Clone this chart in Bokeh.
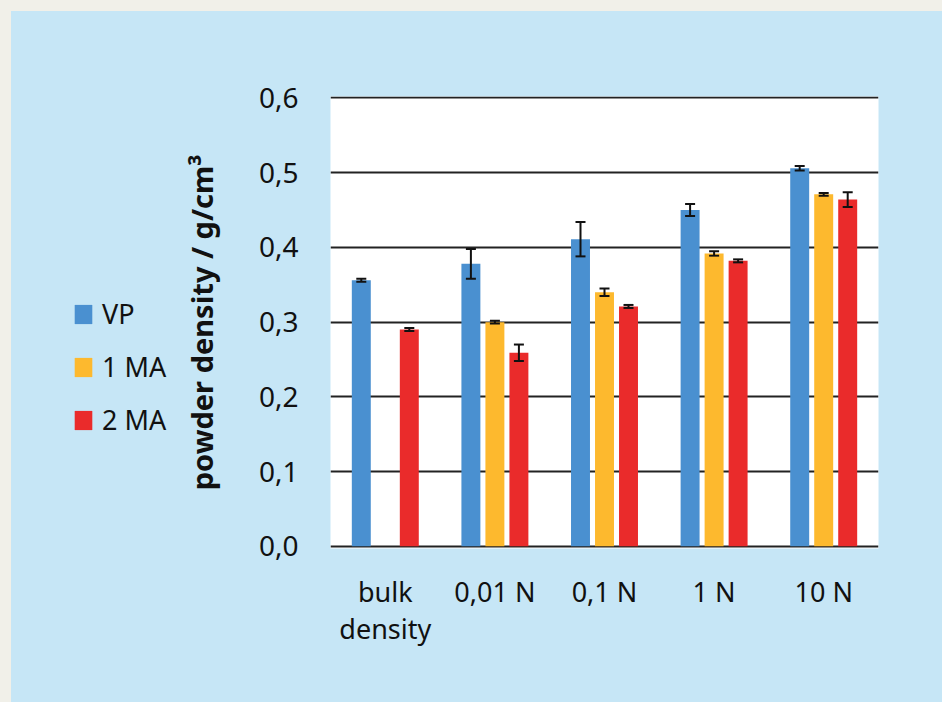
from bokeh.plotting import figure
from bokeh.models import (ColumnDataSource, FactorRange, Whisker, TeeHead, Legend,
                          LegendItem, FixedTicker, CustomJSTickFormatter)
from bokeh.transform import dodge
from bokeh.layouts import column, row
from bokeh.embed import file_html
from bokeh.resources import INLINE

# ---- data -------------------------------------------------------------
categories = ["bulk\ndensity", "0,01 N", "0,1 N", "1 N", "10 N"]
series_names = ["VP", "1 MA", "2 MA"]
vp_values = [0.356, 0.378, 0.411, 0.450, 0.506]
ma1_values = [None, 0.300, 0.340, 0.392, 0.471]
ma2_values = [0.290, 0.259, 0.321, 0.382, 0.464]
vp_errors = [0.002, 0.020, 0.023, 0.008, 0.003]
ma1_errors = [None, 0.002, 0.005, 0.003, 0.002]
ma2_errors = [0.002, 0.011, 0.002, 0.002, 0.010]
y_ticks = [0.0, 0.1, 0.2, 0.3, 0.4, 0.5, 0.6]

colors = ["#4A90D0", "#FDB92E", "#EA2B2B"]
offsets = [-0.219, 0.0, 0.219]
BAR_W = 0.173
FONT = "Noto Sans"
INK = "#111111"
PANEL = "#C6E6F6"
PAGE = "#F1F0E9"

# ---- main bar chart ---------------------------------------------------
p = figure(
    x_range=FactorRange(*categories, range_padding=0),
    y_range=(-0.003, 0.602),
    width=766, height=691,
    frame_width=548, frame_height=452,
    min_border_left=154, min_border_right=64,
    min_border_top=85, min_border_bottom=154,
    output_backend="svg", toolbar_location=None,
    background_fill_color="white", border_fill_color=PANEL,
    outline_line_color=None,
)

for vals, errs, col, off in zip(
        [vp_values, ma1_values, ma2_values],
        [vp_errors, ma1_errors, ma2_errors], colors, offsets):
    cats, tops, lo, hi = [], [], [], []
    for c, v, e in zip(categories, vals, errs):
        if v is None:
            continue
        cats.append(c)
        tops.append(v)
        lo.append(v - e)
        hi.append(v + e)
    src = ColumnDataSource(dict(cat=cats, top=tops, lower=lo, upper=hi))
    p.vbar(x=dodge("cat", off, range=p.x_range), top="top", bottom=0,
           width=BAR_W, source=src, fill_color=col, line_color=None)
    p.add_layout(Whisker(
        source=src, base=dodge("cat", off, range=p.x_range),
        upper="upper", lower="lower", level="annotation",
        line_color=INK, line_width=2,
        upper_head=TeeHead(size=10, line_color=INK, line_width=2),
        lower_head=TeeHead(size=10, line_color=INK, line_width=2)))

# grid
p.xgrid.grid_line_color = None
p.ygrid.ticker = FixedTicker(ticks=y_ticks)
p.ygrid.grid_line_color = "#222222"
p.ygrid.grid_line_width = 2

# y axis
p.yaxis.ticker = FixedTicker(ticks=y_ticks)
p.yaxis.formatter = CustomJSTickFormatter(
    code="return tick.toFixed(1).replace('.', ',');")
p.yaxis.axis_line_color = None
p.yaxis.major_tick_line_color = None
p.yaxis.minor_tick_line_color = None
p.yaxis.major_label_standoff = 26
p.yaxis.major_label_text_font = FONT
p.yaxis.major_label_text_font_size = "28px"
p.yaxis.major_label_text_color = INK
p.yaxis.axis_label = "powder density / g/cm³"
p.yaxis.axis_label_text_font = FONT
p.yaxis.axis_label_text_font_style = "bold"
p.yaxis.axis_label_text_font_size = "29px"
p.yaxis.axis_label_text_color = INK
p.yaxis.axis_label_standoff = 35

# x axis
p.xaxis.axis_line_color = None
p.xaxis.major_tick_line_color = None
p.xaxis.minor_tick_line_color = None
p.xaxis.major_label_standoff = 18
p.xaxis.major_label_text_font = FONT
p.xaxis.major_label_text_font_size = "27px"
p.xaxis.major_label_text_color = INK
p.xaxis.major_label_text_line_height = 1.0
p.xaxis.major_label_orientation = "horizontal"

# ---- legend strip on the left ------------------------------------------
lg = figure(
    width=165, height=691, x_range=(0, 1), y_range=(0, 1),
    min_border=0, output_backend="svg", toolbar_location=None,
    x_axis_location=None, y_axis_location=None,
    background_fill_alpha=0, border_fill_alpha=0,
    outline_line_color=None,
)
lg.xgrid.visible = False
lg.ygrid.visible = False

items = []
for name, col in zip(series_names, colors):
    # one bar far outside the visible range, only used for its legend swatch
    r = lg.vbar(x=[5], top=[6], bottom=[5], width=0.1,
                fill_color=col, line_color=None)
    items.append(LegendItem(label=name, renderers=[r]))

legend = Legend(
    items=items, location=(61, 110), orientation="vertical",
    glyph_width=22, glyph_height=24, label_height=24,
    spacing=16, label_standoff=8, padding=0, margin=0,
    label_text_font=FONT, label_text_font_size="27px",
    label_text_color=INK,
    border_line_color=None, background_fill_alpha=0,
)
lg.add_layout(legend, "center")

panel = row(lg, p, styles={"background-color": PANEL})
panel.margin = (11, 0, 0, 11)
page = column(panel, width=942, height=702,
              styles={"background-color": PAGE})

open("out.html", "w").write(file_html(page, INLINE))
